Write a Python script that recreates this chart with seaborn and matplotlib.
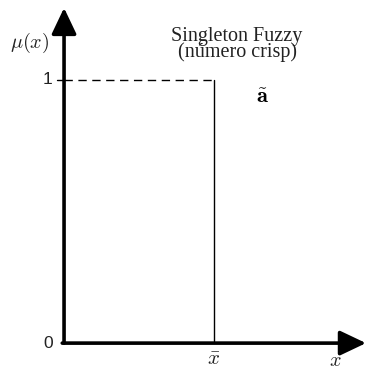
import matplotlib
matplotlib.use('Agg')
import matplotlib.pyplot as plt
import seaborn as sns

# data
x_bar = 1.0
mu_levels = [0, 1]
tick_values = [0, 1]
tick_labels = ['0', '1']
title_lines = ['Singleton Fuzzy', '(número crisp)']

sns.set_style('white')
plt.rcParams['mathtext.fontset'] = 'cm'

fig = plt.figure(figsize=(3.66, 3.71), dpi=100)
ax = fig.add_axes([0, 0, 1, 1])
ax.set_xlim(-0.427, 2.013)
ax.set_ylim(-0.106, 1.304)
ax.axis('off')

# axes with arrow heads
x_end, y_end = 2.013, 1.274
head = dict(arrowstyle='-|>,head_length=0.8,head_width=0.38', lw=2.6, color='black',
            mutation_scale=20, shrinkA=0, shrinkB=0)
ax.annotate('', xy=(x_end, 0), xytext=(-0.012, 0), arrowprops=head)
ax.annotate('', xy=(0, y_end), xytext=(0, 0), arrowprops=head)

# singleton: vertical line at x_bar and dashed guide at mu = 1
sns.lineplot(x=[x_bar, x_bar], y=mu_levels, estimator=None, sort=False,
             color='black', lw=1.0, ax=ax)
sns.lineplot(x=[0, x_bar], y=[mu_levels[1]] * 2, estimator=None, sort=False,
             color='black', lw=1.0, ax=ax, linestyle=(0, (6, 4)))

# y ticks
sns.lineplot(x=[-0.047, 0], y=[tick_values[1]] * 2, estimator=None, sort=False,
             color='black', lw=1.0, ax=ax)
for v, lab in zip(tick_values, tick_labels):
    ax.text(-0.075, v, lab, ha='right', va='center', fontsize=12.5, color='#222222',
            family='Liberation Sans')

# labels
ax.text(-0.227, 1.141, r'$\mu(x)$', ha='center', va='center', fontsize=14.5, color='#222222')
ax.text(1.0, -0.06, r'$\bar{x}$', ha='center', va='center', fontsize=15, color='#222222')
ax.text(1.807, -0.066, r'$x$', ha='center', va='center', fontsize=14.5, color='#222222')
ax.text(1.32, 0.935, r'$\tilde{\mathbf{a}}$', ha='center', va='center', fontsize=16, color='black')
ax.text(1.153, 1.135, '\n'.join(title_lines), ha='center', va='center', fontsize=14.5,
        family='Liberation Serif', color='#222222', linespacing=0.78)

fig.savefig('out.png', dpi=100)
